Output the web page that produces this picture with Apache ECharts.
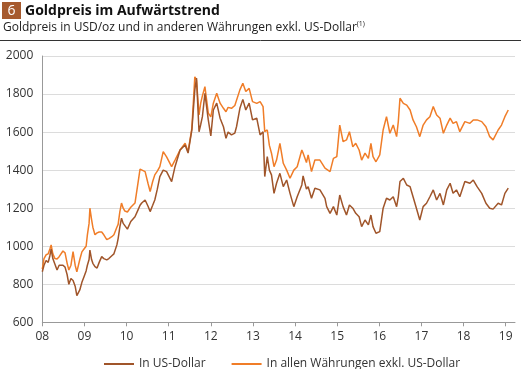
<!DOCTYPE html>
<html>
<head>
<meta charset="utf-8">
<script src="https://cdn.jsdelivr.net/npm/echarts@6/dist/echarts.min.js"></script>
<style>
html,body{margin:0;padding:0;background:#fff;}
#chart{width:521px;height:369px;}
</style>
</head>
<body>
<div id="chart"></div>
<script>
// Decimal years of the sampled points
var years = [
2008.00,2008.04,2008.09,2008.14,2008.18,2008.21,2008.25,2008.30,2008.35,2008.40,2008.44,2008.49,2008.54,2008.59,2008.63,2008.68,2008.73,2008.78,2008.82,2008.85,2008.89,2008.94,2008.99,
2009.04,2009.07,2009.11,2009.13,2009.17,2009.20,2009.25,2009.30,2009.35,2009.41,2009.46,2009.53,2009.58,2009.65,2009.70,2009.77,2009.80,2009.84,2009.88,2009.92,2009.96,
2010.02,2010.10,2010.20,2010.27,2010.32,2010.36,2010.44,2010.51,2010.56,2010.62,2010.67,2010.73,2010.79,2010.87,2010.95,
2011.07,2011.15,2011.27,2011.39,2011.46,2011.55,2011.62,2011.66,2011.72,2011.76,2011.80,2011.86,2011.94,
2012.00,2012.06,2012.14,2012.22,2012.30,2012.36,2012.41,2012.49,2012.57,2012.61,2012.69,2012.76,2012.83,2012.91,2012.99,
2013.09,2013.17,2013.24,2013.28,2013.34,2013.39,2013.44,2013.50,2013.56,2013.64,2013.72,2013.80,2013.88,2013.97,
2014.05,2014.16,2014.19,2014.27,2014.31,2014.39,2014.47,2014.59,2014.71,2014.75,2014.83,2014.91,2014.99,
2015.06,2015.14,2015.22,2015.29,2015.37,2015.44,2015.52,2015.58,2015.66,2015.74,2015.80,2015.85,2015.92,
2016.01,2016.09,2016.17,2016.25,2016.33,2016.41,2016.45,2016.49,2016.57,2016.65,2016.73,2016.80,2016.88,2016.96,
2017.04,2017.12,2017.20,2017.28,2017.36,2017.44,2017.52,2017.60,2017.68,2017.75,2017.83,2017.91,
2018.03,2018.15,2018.23,2018.32,2018.43,2018.53,2018.62,2018.70,2018.74,2018.82,2018.90,2018.98,2019.06
];
// Gold price in USD/oz
var usd = [
866,900,925,915,950,985,935,905,875,900,910,900,890,850,800,830,820,790,740,735,770,810,840,
870,900,930,980,930,910,893,885,915,945,935,928,935,950,960,1007,1040,1100,1147,1120,1110,
1090,1130,1155,1190,1215,1227,1243,1210,1182,1215,1243,1300,1366,1400,1392,
1340,1418,1506,1532,1490,1611,1822,1884,1602,1640,1681,1804,1664,
1580,1716,1752,1673,1628,1567,1600,1585,1595,1628,1725,1772,1716,1752,1664,
1673,1585,1602,1366,1471,1400,1375,1278,1331,1383,1313,1348,1278,1208,
1260,1322,1370,1300,1313,1252,1305,1296,1252,1208,1173,1208,1164,
1269,1208,1164,1217,1200,1173,1155,1103,1138,1112,1164,1103,1068,
1077,1200,1252,1243,1260,1208,1260,1340,1357,1322,1313,1260,1200,1138,
1208,1226,1260,1296,1243,1278,1217,1296,1331,1278,1296,1260,
1340,1331,1348,1313,1278,1226,1200,1195,1191,1226,1217,1278,1305
];
// Gold price in all other currencies excl. USD
var others = [
880,935,955,960,985,1007,960,935,933,945,950,975,965,910,875,900,971,900,865,870,930,970,985,
1000,1060,1120,1200,1140,1100,1060,1070,1075,1075,1060,1035,1040,1050,1060,1100,1115,1180,1227,1200,1185,
1180,1205,1227,1330,1405,1410,1392,1330,1287,1340,1375,1395,1418,1497,1470,
1418,1453,1506,1541,1497,1620,1891,1874,1690,1752,1790,1839,1700,
1680,1752,1804,1752,1725,1707,1730,1725,1740,1740,1822,1857,1813,1830,1760,
1751,1760,1734,1602,1611,1530,1489,1418,1453,1541,1436,1400,1357,1400,
1418,1506,1490,1440,1480,1392,1453,1453,1410,1400,1392,1462,1471,
1637,1550,1559,1602,1523,1541,1506,1453,1489,1462,1541,1471,1444,
1480,1611,1681,1594,1637,1576,1655,1778,1751,1742,1716,1664,1628,1576,
1637,1664,1681,1734,1690,1673,1594,1637,1673,1646,1655,1602,
1655,1646,1664,1664,1655,1628,1576,1559,1550,1611,1637,1681,1716
];
var yearTicks = [2008,2009,2010,2011,2012,2013,2014,2015,2016,2017,2018,2019];
var seriesNames = ['In US-Dollar', 'In allen Währungen exkl. US-Dollar'];

var BROWN = '#a0552a';
var ORANGE = '#f07d28';
var FONT = 'Open Sans';

function pairs(vals){ return years.map(function(y,i){ return [y, vals[i]]; }); }

var chart = echarts.init(document.getElementById('chart'), null, {renderer:'canvas'});
chart.setOption({
  animation:false,
  backgroundColor:'#fff',
  textStyle:{fontFamily:FONT},
  graphic:[
    {type:'rect', shape:{x:2,y:2,width:19,height:17}, style:{fill:'#a65a2e'}},
    {type:'text', x:11.5, y:11, style:{text:'6', fill:'#fff', font:'14px "'+FONT+'"', align:'center', verticalAlign:'middle'}},
    {type:'text', x:25, y:11, style:{text:'Goldpreis im Aufwärtstrend', fill:'#111', font:'bold 14px "'+FONT+'"', align:'left', verticalAlign:'middle'}},
    {type:'text', x:3, y:20, style:{
      text:'{m|Goldpreis in USD/oz und in anderen Währungen exkl. US-Dollar}{s|(1)}',
      fill:'#222', align:'left', verticalAlign:'top',
      rich:{m:{fontFamily:FONT, fontSize:12, lineHeight:16, fill:'#222', verticalAlign:'middle'},
            s:{fontFamily:FONT, fontSize:7, lineHeight:16, fill:'#222', verticalAlign:'top'}}
    }},
    {type:'line', shape:{x1:0,y1:40.5,x2:521,y2:40.5}, style:{stroke:'#333', lineWidth:1}}
  ],
  grid:{left:42.3, right:6, top:56, bottom:46.7},
  legend:{
    left:99, top:353, itemGap:26, itemWidth:30, itemHeight:2, icon:'rect',
    textStyle:{color:'#333', fontSize:12, fontFamily:FONT},
    data:[{name:seriesNames[0]},{name:seriesNames[1]}]
  },
  xAxis:{
    type:'value', min:2008, max:2019.22, interval:1,
    axisLine:{show:true, lineStyle:{color:'#999', width:1}},
    axisTick:{show:true, length:4, lineStyle:{color:'#999'}, customValues:yearTicks},
    axisLabel:{color:'#333', fontSize:12, margin:8, customValues:yearTicks,
      formatter:function(v){ return String(Math.round(v)).slice(2); }},
    splitLine:{show:false}
  },
  yAxis:{
    type:'value', min:600, max:2000, interval:200,
    axisLine:{show:true, lineStyle:{color:'#999', width:1}},
    axisTick:{show:false},
    axisLabel:{color:'#333', fontSize:12, margin:9,
      formatter:function(v){ return String(Math.round(v)); }},
    splitLine:{show:true, lineStyle:{color:'#dcdcdc', width:1}}
  },
  series:[
    {name:seriesNames[1], type:'line', data:pairs(others), showSymbol:false, symbol:'none',
     lineStyle:{color:ORANGE, width:1.5}, itemStyle:{color:ORANGE}},
    {name:seriesNames[0], type:'line', data:pairs(usd), showSymbol:false, symbol:'none',
     lineStyle:{color:BROWN, width:1.5}, itemStyle:{color:BROWN}}
  ]
});
</script>
</body>
</html>
